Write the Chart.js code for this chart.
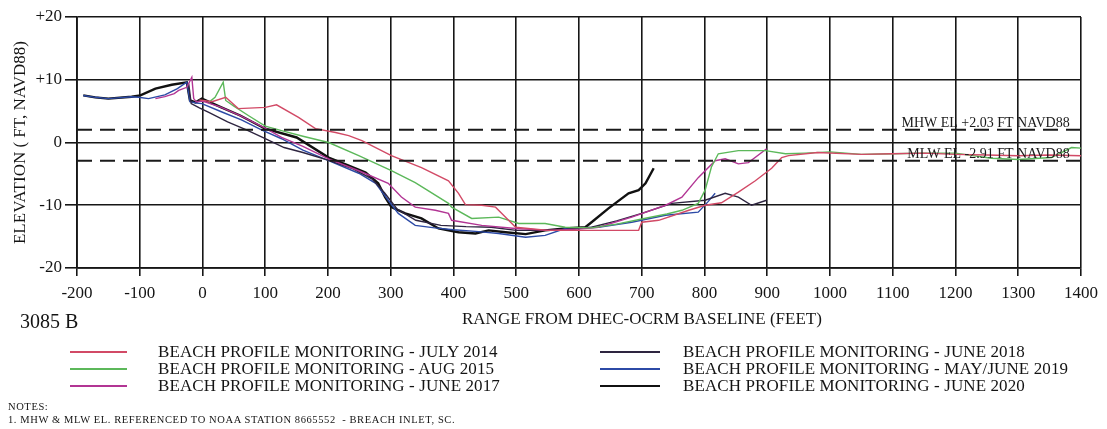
<!DOCTYPE html>
<html>
<head>
<meta charset="utf-8">
<script src="https://cdn.jsdelivr.net/npm/chart.js@4/dist/chart.umd.min.js"></script>
<style>
  html, body { margin: 0; padding: 0; background: #fff; }
  #wrap { position: relative; width: 1107px; height: 429px; overflow: hidden; font-family: "Liberation Serif", "DejaVu Serif", serif; color: #141414; }
  #chart { position: absolute; left: 0; top: 0; }
  .abs { position: absolute; white-space: nowrap; line-height: 1; }
  .lg-row { position: absolute; height: 17px; }
  .lg-line { position: absolute; top: 8px; height: 1.6px; }
  .lg-text { position: absolute; top: 0; font-size: 17px; line-height: 17px; white-space: nowrap; letter-spacing: 0.1px; }
  .note { font-size: 10.5px; letter-spacing: 0.6px; }
</style>
</head>
<body>
<div id="wrap">
  <canvas id="chart" width="1107" height="429"></canvas>
  <div class="abs" style="left:20px; top:311px; font-size:20px;">3085 B</div>
  <div class="abs" style="left:462px; top:310px; font-size:17px;">RANGE FROM DHEC-OCRM BASELINE (FEET)</div>
  <div id="legend"></div>
  <div class="abs note" style="left:8px; top:402px;">NOTES:</div>
  <div class="abs note" style="left:8px; top:415px;">1. MHW &amp; MLW EL. REFERENCED TO NOAA STATION 8665552&nbsp; - BREACH INLET, SC.</div>
</div>
<script>
// Survey names and line colours
const surveyNames = [
  'BEACH PROFILE MONITORING - JULY 2014',
  'BEACH PROFILE MONITORING - AUG 2015',
  'BEACH PROFILE MONITORING - JUNE 2017',
  'BEACH PROFILE MONITORING - JUNE 2018',
  'BEACH PROFILE MONITORING - MAY/JUNE 2019',
  'BEACH PROFILE MONITORING - JUNE 2020'
];
const surveyColors = ['#d24a66', '#5cb85a', '#b23594', '#2e2540', '#2c4aa6', '#111111'];
const surveyWidths = [1.4, 1.4, 1.4, 1.4, 1.4, 2.4];

// Station (ft from baseline) and elevation (ft NAVD88) for each survey
const july2014X = [-5, 15, 37, 57, 100, 118, 153, 180, 212, 233, 254, 301, 349, 392, 408, 419, 445, 467, 483, 499, 551, 604, 658, 695, 700, 727, 775, 801, 827, 854, 881, 907, 923, 934, 980, 1050, 1100, 1150, 1200, 1250, 1300, 1350, 1400];
const july2014Y = [6.8, 6.5, 7.2, 5.4, 5.6, 6.0, 4.0, 2.2, 1.6, 1.1, 0.3, -2.1, -4.0, -6.1, -8.1, -9.9, -10.0, -10.3, -11.9, -13.5, -14.0, -14.0, -14.0, -14.0, -12.7, -12.4, -10.8, -10.0, -9.6, -7.9, -6.1, -4.1, -2.4, -2.1, -1.6, -1.9, -1.8, -1.7, -1.9, -2.0, -2.1, -2.0, -2.1];

const aug2015X = [10, 20, 33, 37, 50, 73, 100, 126, 160, 201, 249, 301, 339, 392, 397, 429, 472, 504, 546, 578, 620, 660, 700, 740, 764, 790, 801, 811, 822, 854, 897, 929, 960, 1000, 1050, 1100, 1150, 1200, 1257, 1300, 1353, 1385, 1400];
const aug2015Y = [6.4, 7.2, 9.6, 6.7, 5.8, 4.3, 2.6, 1.9, 1.0, 0.0, -2.1, -4.5, -6.4, -9.7, -10.3, -12.1, -11.9, -12.9, -12.9, -13.5, -13.6, -13.0, -12.2, -11.4, -10.8, -9.7, -7.6, -3.9, -1.8, -1.3, -1.3, -1.8, -1.7, -1.5, -1.9, -1.8, -1.7, -1.7, -2.5, -2.7, -2.4, -0.8, -0.9];

const june2017X = [-75, -60, -45, -38, -25, -17, -14, -10, 0, 30, 60, 100, 126, 160, 201, 249, 296, 317, 339, 371, 392, 397, 445, 499, 551, 600, 631, 684, 738, 764, 790, 817, 833, 854, 870, 899];
const june2017Y = [7.0, 7.3, 7.8, 8.3, 8.8, 10.4, 7.0, 6.5, 6.6, 5.6, 4.3, 2.3, 0.8, -0.6, -2.6, -4.5, -6.5, -8.7, -10.3, -10.8, -11.3, -12.4, -13.2, -13.7, -14.0, -13.8, -13.5, -11.9, -10.0, -8.7, -5.6, -2.9, -2.6, -3.4, -3.2, -1.0];

const june2018X = [-22, -18, -5, 10, 40, 70, 100, 130, 160, 200, 240, 270, 290, 310, 340, 380, 420, 460, 500, 540, 580, 620, 660, 700, 748, 801, 833, 854, 875, 899];
const june2018Y = [9.4, 6.2, 5.5, 4.8, 3.3, 2.0, 0.6, -0.8, -1.6, -2.8, -4.2, -5.8, -8.0, -10.6, -12.4, -13.2, -13.4, -13.5, -14.0, -14.0, -13.8, -13.5, -12.5, -11.3, -9.7, -9.2, -8.1, -8.7, -10.0, -9.2];

const may2019X = [-190, -171, -150, -113, -102, -86, -60, -40, -25, -20, -10, -1, 30, 62, 94, 126, 160, 201, 249, 276, 296, 312, 339, 370, 400, 440, 472, 515, 546, 578, 631, 684, 738, 790, 805, 817];
const may2019Y = [7.5, 7.2, 7.0, 7.3, 7.2, 7.0, 7.6, 8.6, 9.6, 6.5, 6.3, 6.2, 4.9, 3.6, 2.0, 0.6, -1.2, -2.9, -4.9, -6.5, -9.2, -11.3, -13.2, -13.6, -13.9, -14.2, -14.5, -15.1, -14.8, -13.7, -13.5, -12.7, -11.6, -11.1, -9.5, -8.1];

const june2020X = [-190, -171, -150, -113, -99, -75, -49, -25, -20, -11, -1, 30, 60, 100, 150, 201, 233, 260, 280, 291, 301, 323, 349, 376, 408, 435, 456, 483, 515, 546, 578, 610, 620, 647, 679, 695, 706, 719];
const june2020Y = [7.5, 7.2, 7.0, 7.3, 7.5, 8.6, 9.2, 9.6, 6.7, 6.4, 7.0, 5.6, 4.3, 2.2, 0.8, -2.4, -3.7, -4.8, -6.5, -8.7, -10.3, -11.3, -12.1, -13.7, -14.3, -14.5, -14.0, -14.3, -14.6, -14.0, -13.7, -13.5, -12.7, -10.5, -8.1, -7.6, -6.5, -4.1];

// Tidal datums
const mhwElev = 2.03;
const mlwElev = -2.91;
const mhwLabel = 'MHW EL +2.03 FT NAVD88';
const mlwLabel = 'MLW EL -2.91 FT NAVD88';

// Axis ranges and tick steps
const xMin = -200, xMax = 1400, xStep = 100;
const yMin = -20, yMax = 20, yStep = 10;

const surveyX = [july2014X, aug2015X, june2017X, june2018X, may2019X, june2020X];
const surveyY = [july2014Y, aug2015Y, june2017Y, june2018Y, may2019Y, june2020Y];

function toPoints(xs, ys) { return xs.map((x, i) => ({ x: x, y: ys[i] })); }

const datumSets = [mhwElev, mlwElev].map(v => ({
  label: 'datum',
  data: [{ x: xMin, y: v }, { x: xMax, y: v }],
  showLine: true, pointRadius: 0,
  borderColor: '#1a1a1a', borderWidth: 1.8, borderDash: [15, 8]
}));

const surveySets = surveyNames.map((name, i) => ({
  label: name,
  data: toPoints(surveyX[i], surveyY[i]),
  showLine: true, pointRadius: 0, tension: 0,
  borderColor: surveyColors[i], borderWidth: surveyWidths[i]
}));

// Datum labels drawn at the right end of the dashed lines
const datumLabels = {
  id: 'datumLabels',
  afterDatasetsDraw(chart) {
    const { ctx, scales } = chart;
    ctx.save();
    ctx.fillStyle = '#1a1a1a';
    ctx.font = '14px "Liberation Serif", serif';
    ctx.textAlign = 'right';
    ctx.textBaseline = 'alphabetic';
    const xr = scales.x.getPixelForValue(1382);
    ctx.fillText(mhwLabel, xr, scales.y.getPixelForValue(mhwElev) - 3);
    ctx.fillText(mlwLabel, xr, scales.y.getPixelForValue(mlwElev) - 3);
    ctx.restore();
  }
};

const serif = '"Liberation Serif", "DejaVu Serif", serif';

new Chart(document.getElementById('chart'), {
  type: 'scatter',
  data: { datasets: [...datumSets, ...surveySets] },
  options: {
    responsive: false,
    animation: false,
    layout: { padding: { left: 0, top: 17, right: 26, bottom: 101 } },
    plugins: { legend: { display: false }, tooltip: { enabled: false } },
    scales: {
      x: {
        type: 'linear', min: xMin, max: xMax,
        ticks: { stepSize: xStep, color: '#141414', padding: 7, maxRotation: 0,
                 font: { family: serif, size: 17 },
                 callback: v => String(v) },
        grid: { color: '#161616', lineWidth: 1.6, tickLength: 8 },
        border: { color: '#161616', width: 1.8 },
        afterFit(scale) { scale.height = 60; }
      },
      y: {
        type: 'linear', min: yMin, max: yMax,
        ticks: { stepSize: yStep, color: '#141414', padding: 3,
                 font: { family: serif, size: 17 },
                 callback: v => (v > 0 ? '+' + v : String(v)) },
        grid: { color: '#161616', lineWidth: 1.6, tickLength: 12 },
        border: { color: '#161616', width: 1.8 },
        title: { display: true, text: 'ELEVATION ( FT, NAVD88)', color: '#141414',
                 font: { family: serif, size: 17 }, padding: { top: 10, bottom: 0 } },
        afterFit(scale) { scale.width = 77; }
      }
    }
  },
  plugins: [datumLabels]
});

// Two-column legend below the axis title
const legend = document.getElementById('legend');
const legendCols = [{ line: 70, lineW: 57, text: 158 }, { line: 600, lineW: 60, text: 683 }];
const legendRows = [343, 360, 377];
surveyNames.forEach((name, i) => {
  const col = legendCols[Math.floor(i / 3)];
  const row = document.createElement('div');
  row.className = 'lg-row';
  row.style.left = '0px';
  row.style.top = legendRows[i % 3] + 'px';
  const ln = document.createElement('div');
  ln.className = 'lg-line';
  ln.style.left = col.line + 'px';
  ln.style.width = col.lineW + 'px';
  ln.style.background = surveyColors[i];
  const tx = document.createElement('div');
  tx.className = 'lg-text';
  tx.style.left = col.text + 'px';
  tx.textContent = name;
  row.appendChild(ln);
  row.appendChild(tx);
  legend.appendChild(row);
});
</script>
</body>
</html>
